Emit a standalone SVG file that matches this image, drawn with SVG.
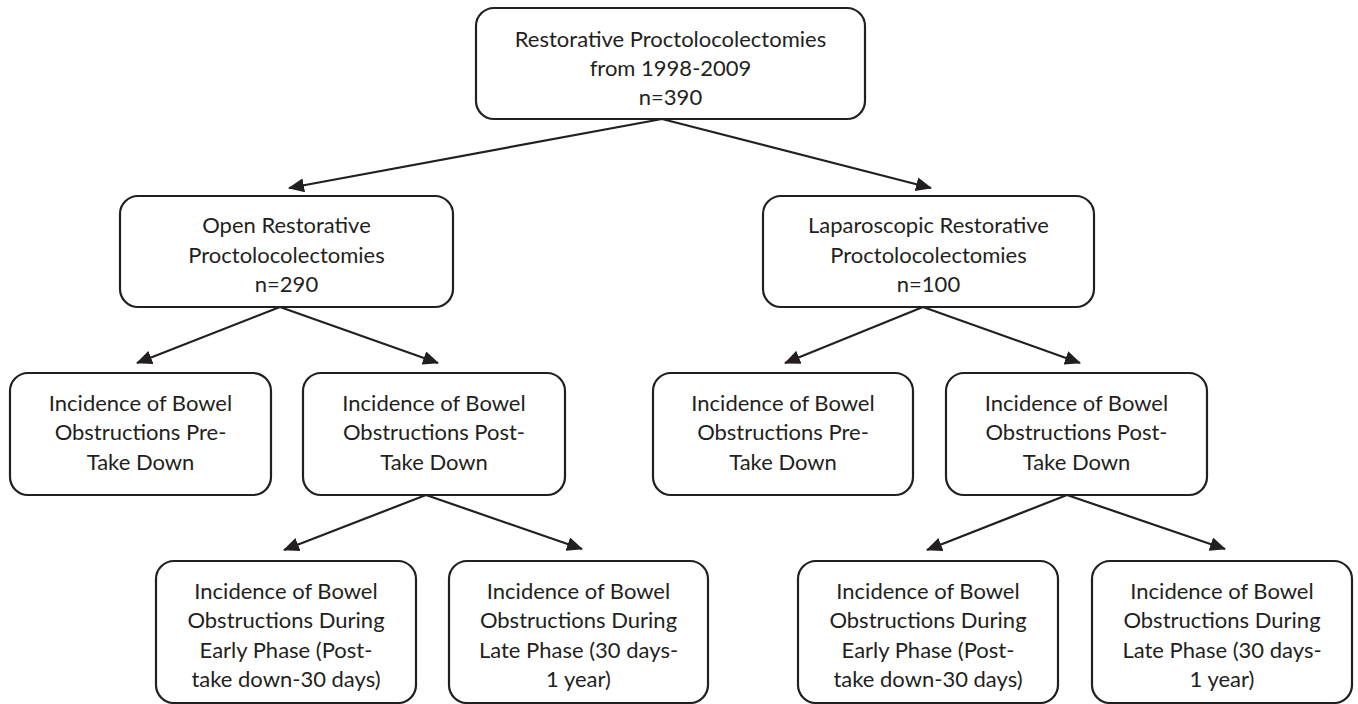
<svg xmlns="http://www.w3.org/2000/svg" width="1358" height="704" viewBox="0 0 1358 704">
<style>
.box{fill:#ffffff;stroke:#231f20;stroke-width:2.2}
.t{font-family:Lato,"Open Sans","Liberation Sans",sans-serif;font-size:22px;fill:#231f20;text-anchor:middle}
.c{stroke:#231f20;stroke-width:2.2;fill:none;marker-end:url(#ah)}
</style>
<defs>
<marker id="ah" markerUnits="userSpaceOnUse" markerWidth="16" markerHeight="14" viewBox="0 0 16 14" refX="15" refY="7" orient="auto">
<path d="M0,0 L16,7 L0,14 z" fill="#231f20"/>
</marker>
</defs>
<rect width="1358" height="704" fill="#ffffff"/>
<g id="connectors">
<line class="c" x1="662" y1="119" x2="289" y2="188"/>
<line class="c" x1="662" y1="119" x2="931" y2="188"/>
<line class="c" x1="280" y1="307" x2="137" y2="363"/>
<line class="c" x1="280" y1="307" x2="438" y2="363"/>
<line class="c" x1="923" y1="307" x2="785" y2="363"/>
<line class="c" x1="923" y1="307" x2="1080" y2="363"/>
<line class="c" x1="426" y1="495" x2="284" y2="550"/>
<line class="c" x1="426" y1="495" x2="582" y2="549"/>
<line class="c" x1="1067" y1="495" x2="927" y2="550"/>
<line class="c" x1="1067" y1="495" x2="1225" y2="549"/>
</g>
<g id="n-root">
<rect class="box" x="476" y="8" width="389" height="111" rx="18"/>
<text class="t" x="670.5" y="47">Restorative Proctolocolectomies</text>
<text class="t" x="670.5" y="76">from 1998-2009</text>
<text class="t" x="670.5" y="105">n=390</text>
</g>
<g id="n-open">
<rect class="box" x="120" y="196" width="333" height="111" rx="18"/>
<text class="t" x="286.5" y="233">Open Restorative</text>
<text class="t" x="286.5" y="262.5">Proctolocolectomies</text>
<text class="t" x="286.5" y="292">n=290</text>
</g>
<g id="n-lap">
<rect class="box" x="763" y="196" width="331" height="111" rx="18"/>
<text class="t" x="928.5" y="233">Laparoscopic Restorative</text>
<text class="t" x="928.5" y="262.5">Proctolocolectomies</text>
<text class="t" x="928.5" y="292">n=100</text>
</g>
<g id="n-open-pre">
<rect class="box" x="10" y="373" width="261" height="122" rx="18"/>
<text class="t" x="140.5" y="410.5">Incidence of Bowel</text>
<text class="t" x="140.5" y="440">Obstructions Pre-</text>
<text class="t" x="140.5" y="469.5">Take Down</text>
</g>
<g id="n-open-post">
<rect class="box" x="303" y="373" width="262" height="122" rx="18"/>
<text class="t" x="434" y="410.5">Incidence of Bowel</text>
<text class="t" x="434" y="440">Obstructions Post-</text>
<text class="t" x="434" y="469.5">Take Down</text>
</g>
<g id="n-lap-pre">
<rect class="box" x="653" y="373" width="260" height="122" rx="18"/>
<text class="t" x="783" y="410.5">Incidence of Bowel</text>
<text class="t" x="783" y="440">Obstructions Pre-</text>
<text class="t" x="783" y="469.5">Take Down</text>
</g>
<g id="n-lap-post">
<rect class="box" x="946" y="373" width="261" height="122" rx="18"/>
<text class="t" x="1076.5" y="410.5">Incidence of Bowel</text>
<text class="t" x="1076.5" y="440">Obstructions Post-</text>
<text class="t" x="1076.5" y="469.5">Take Down</text>
</g>
<g id="n-open-early">
<rect class="box" x="156" y="561" width="260" height="142" rx="18"/>
<text class="t" x="286" y="598.5">Incidence of Bowel</text>
<text class="t" x="286" y="628">Obstructions During</text>
<text class="t" x="286" y="657.5">Early Phase (Post-</text>
<text class="t" x="286" y="687">take down-30 days)</text>
</g>
<g id="n-open-late">
<rect class="box" x="449" y="561" width="259" height="142" rx="18"/>
<text class="t" x="578.5" y="598.5">Incidence of Bowel</text>
<text class="t" x="578.5" y="628">Obstructions During</text>
<text class="t" x="578.5" y="657.5">Late Phase (30 days-</text>
<text class="t" x="578.5" y="687">1 year)</text>
</g>
<g id="n-lap-early">
<rect class="box" x="798" y="561" width="260" height="142" rx="18"/>
<text class="t" x="928" y="598.5">Incidence of Bowel</text>
<text class="t" x="928" y="628">Obstructions During</text>
<text class="t" x="928" y="657.5">Early Phase (Post-</text>
<text class="t" x="928" y="687">take down-30 days)</text>
</g>
<g id="n-lap-late">
<rect class="box" x="1092" y="561" width="260" height="142" rx="18"/>
<text class="t" x="1222" y="598.5">Incidence of Bowel</text>
<text class="t" x="1222" y="628">Obstructions During</text>
<text class="t" x="1222" y="657.5">Late Phase (30 days-</text>
<text class="t" x="1222" y="687">1 year)</text>
</g>
</svg>
